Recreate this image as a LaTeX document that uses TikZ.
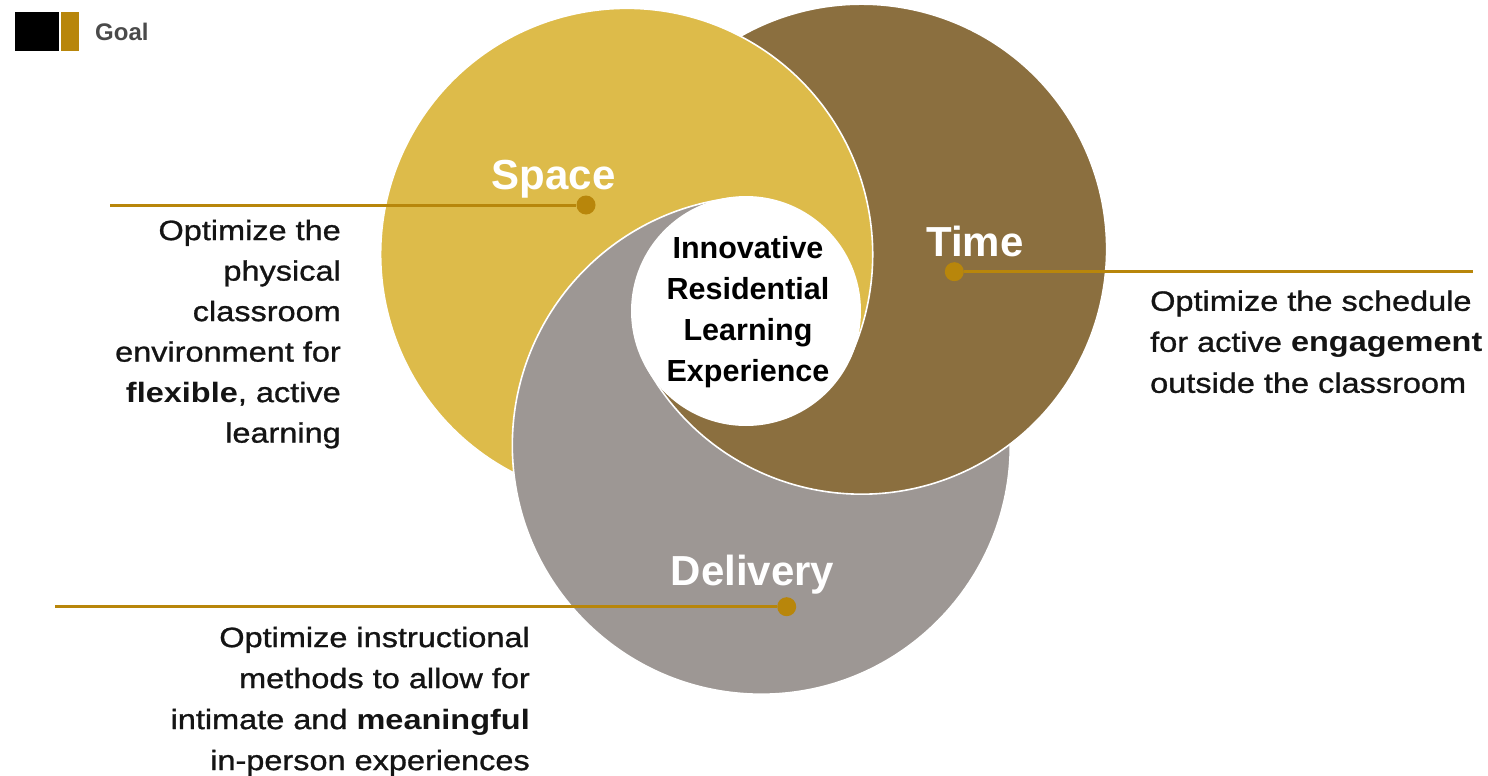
\documentclass[tikz,border=0pt]{standalone}
\usepackage{fontspec}
\setmainfont{Liberation Sans}
\newfontfamily\descfont[FakeStretch=1.16, UprightFeatures={FakeBold=1}]{Liberation Sans}
\usetikzlibrary{calc}
\definecolor{spaceY}{RGB}{221,187,74}
\definecolor{timeB}{RGB}{139,111,63}
\definecolor{delivG}{RGB}{157,151,148}
\definecolor{goldline}{RGB}{184,134,11}
\definecolor{goaltext}{RGB}{74,74,74}
\definecolor{bodytext}{RGB}{20,20,20}
\tikzset{
  edgeline/.style={draw=white, line width=1.6pt},
  leader/.style={draw=goldline, line width=3pt},
  dotmark/.style={circle, fill=goldline, minimum size=19pt, inner sep=0pt},
  heading/.style={font=\fontsize{42}{42}\selectfont\bfseries, text=white, inner sep=0pt, anchor=base},
  desc/.style={font=\descfont\fontsize{28}{41}\selectfont, text=bodytext, inner sep=0pt},
  core/.style={font=\fontsize{30.5}{41}\selectfont\bfseries, text=black, align=center, inner sep=0pt, anchor=north},
  swatch/.style={inner sep=0pt, minimum height=39pt, anchor=north west},
}
\begin{document}
\begin{tikzpicture}[x=1pt,y=-1pt]
\useasboundingbox (0,0) rectangle (1488,776);
\coordinate (C) at (746,311);
\coordinate (Yc) at (626.7,254.5);
\coordinate (Bc) at (861.6,249.2);
\coordinate (Gc) at (761.3,445.2);
% key points
\coordinate (XGY) at ($(Gc)+(173.6:249)$);
\coordinate (TG) at ($(Gc)+(263.5:249)$);
\coordinate (TB) at ($(Bc)+(151.9:245)$);
\coordinate (TY) at ($(Yc)+(25.3:246)$);
% base fills (Delivery < Time < Space)
\path[fill=delivG] (Gc) circle[radius=249];
\path[fill=timeB] (Bc) circle[radius=245];
\path[fill=spaceY] (Yc) circle[radius=246];
% Delivery over Space (left part of the swirl)
\path[fill=delivG] (XGY) arc[start angle=173.6, end angle=263.5, radius=249]
  -- (TB) arc[start angle=151.9, end angle=90, radius=245] -- (640,580) -- cycle;
% Time over Space (bottom part of the swirl)
\path[fill=timeB] (TB) arc[start angle=151.9, end angle=90, radius=245]
  -- (903,385.5) -- (TY) -- cycle;
% visible white edges
\draw[edgeline] (XGY) arc[start angle=117.3, end angle=385.3, radius=246];
\draw[edgeline] ($(Gc)+(-0.3:249)$) arc[start angle=-0.3, end angle=263.5, radius=249];
\draw[edgeline] ($(Bc)+(240.3:245)$) arc[start angle=240.3, end angle=511.9, radius=245];
% white core
\path[fill=white] (C) circle[radius=115];
\node[core] (core) at (748,236) {Innovative\\Residential\\Learning\\Experience};
% headings
\node[heading] (space) at (553.5,189) {Space};
\node[heading] (time) at (975,256) {Time};
\node[heading] (delivery) at (752.5,585) {Delivery};
% leaders
\coordinate (sline) at (110,205);
\coordinate (tline) at (1473,271.7);
\coordinate (dline) at (55,606.7);
\node[dotmark] (sdot) at (586,205) {};
\node[dotmark] (tdot) at (954.3,271.7) {};
\node[dotmark] (ddot) at (786.7,606.7) {};
\draw[leader] (sline) -- (sdot);
\draw[leader] (tdot) -- (tline);
\draw[leader] (dline) -- (ddot);
% descriptions
\node[desc, align=right, anchor=north east, font=\descfont\fontsize{28}{40.5}\selectfont] (spacedesc) at (341,219.6)
  {Optimize the\\physical\\classroom\\environment for\\\textbf{flexible}, active\\learning};
\node[desc, align=left, anchor=north west] (timedesc) at (1150,290.3)
  {Optimize the schedule\\for active \textbf{engagement}\\outside the classroom};
\node[desc, align=right, anchor=north east] (delivdesc) at (530,626.6)
  {Optimize instructional\\methods to allow for\\intimate and \textbf{meaningful}\\in-person experiences};
% legend
\node[swatch, fill=black, minimum width=44pt] (swK) at (15,12) {};
\node[swatch, fill=goldline, minimum width=18pt] (swG) at (61,12) {};
\node[font=\fontsize{24}{24}\selectfont\bfseries, text=goaltext, anchor=base west, inner sep=0pt] (goal) at (95,41) {Goal};
\end{tikzpicture}
\end{document}
